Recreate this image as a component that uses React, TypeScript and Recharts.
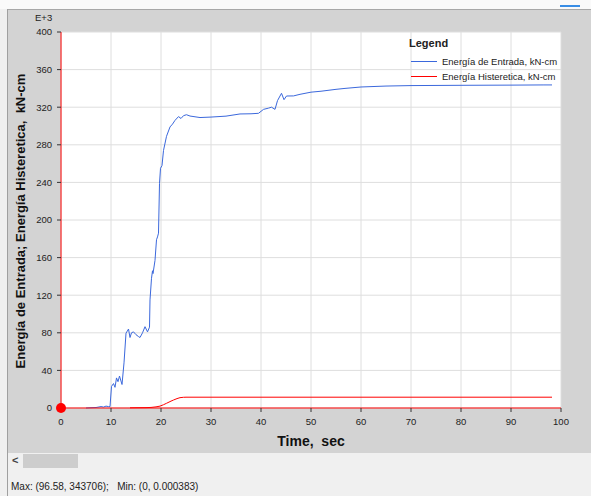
import React from "react";
import { LineChart, Line, XAxis, YAxis, CartesianGrid, ReferenceDot } from "recharts";

// Energía de Entrada (time in sec, value in kN-cm x 1000)
const entradaT = [5.0, 6, 7, 8, 8.5, 9, 9.5, 9.8, 10.1, 10.5, 10.8, 11.1, 11.4, 11.7, 12.2, 12.6, 13.0, 13.5, 13.8, 14.1, 14.5, 15.0, 15.5, 15.8, 16.3, 16.8, 17.3, 17.7, 17.8, 18.1, 18.3, 18.4, 18.8, 19.1, 19.3, 19.5, 19.7, 19.9, 20.2, 20.5, 21.1, 21.8, 22.3, 22.8, 23.5, 24.0, 24.5, 25.1, 25.8, 27.8, 30, 33, 35.8, 38, 39.5, 40.5, 41.5, 42.1, 42.8, 43.3, 44.1, 44.6, 45.1, 46.5, 47.8, 50, 52, 55, 56.8, 60, 65, 70, 80, 90, 96.58, 98.2];
const entradaV = [0, 0.3, 0.5, 1.5, 1, 2, 1.5, 1.4, 23, 26, 22, 32, 28, 34, 25, 48, 79.6, 84, 75, 80, 81, 78, 76, 75, 80, 86.5, 81, 86, 115, 138, 146, 143, 157, 179, 182, 186, 239, 255, 258, 274, 289, 299, 302, 306, 310, 308, 311, 312, 310.6, 309, 309.5, 310.5, 312.8, 313, 313.5, 317.7, 319, 320, 317.7, 327, 334.8, 328, 331.9, 332, 333.7, 336, 337, 339, 340, 341.5, 342.5, 343, 343.3, 343.5, 343.7, 343.7];

// Energía Histeretica
const histT = [13.8, 15, 17, 18, 19, 19.8, 20.5, 21.1, 22, 22.5, 23.2, 23.8, 24.5, 25, 30, 50, 98.2];
const histV = [0.2, 0.3, 0.4, 0.6, 1.2, 2, 3.5, 5, 7.3, 8.5, 10, 11, 11.4, 11.5, 11.5, 11.5, 11.5];

const xTicks = [0, 10, 20, 30, 40, 50, 60, 70, 80, 90, 100];
const yTicks = [0, 40, 80, 120, 160, 200, 240, 280, 320, 360, 400];

const seriesNames = ["Energía de Entrada, kN-cm", "Energía Histeretica, kN-cm"];
const seriesColors = ["#3b68dc", "#ff0000"];

const entradaData = entradaT.map((t, i) => ({ t, v: entradaV[i] }));
const histData = histT.map((t, i) => ({ t, v: histV[i] }));

const FONT = '"Liberation Sans", Arial, sans-serif';

export default function App() {
  return (
    <div style={{ position: "absolute", left: 0, top: 0, width: 591, height: 496, background: "#f0f0f0", overflow: "hidden", fontFamily: FONT }}>
      {/* top strip */}
      <div style={{ position: "absolute", left: 0, top: 0, width: 591, height: 9, background: "#fafafa" }} />
      <div style={{ position: "absolute", left: 560, top: 5, width: 20, height: 1.5, background: "#3a8ee6" }} />
      {/* gray panel */}
      <div style={{ position: "absolute", left: 8, top: 9, width: 583, height: 443, background: "#d3d3d3", borderTop: "1px solid #a8a8a8" }} />
      {/* left border */}
      <div style={{ position: "absolute", left: 7, top: 9, width: 1, height: 487, background: "#a0a0a0" }} />
      {/* scrollbar */}
      <div style={{ position: "absolute", left: 12, top: 454, fontSize: 11, color: "#444", fontWeight: "bold" }}>&lt;</div>
      <div style={{ position: "absolute", left: 23, top: 454, width: 55, height: 14, background: "#cdcdcd" }} />
      {/* status */}
      <div style={{ position: "absolute", left: 11, top: 481, fontSize: 10, color: "#222", whiteSpace: "pre" }}>
        {"Max: (96.58, 343706);   Min: (0, 0.000383)"}
      </div>

      <div style={{ position: "absolute", left: 0, top: 0 }}>
        <LineChart width={591} height={496} margin={{ top: 32, right: 30, left: 0, bottom: 48 }}>
          <CartesianGrid stroke="#dedede" fill="#ffffff" vertical horizontal />
          <XAxis
            type="number"
            dataKey="t"
            domain={[0, 100]}
            ticks={xTicks}
            allowDataOverflow
            height={40}
            axisLine={{ stroke: "#ff0000" }}
            tickLine={{ stroke: "#333" }}
            tickSize={4}
            tickMargin={6}
            tick={{ fill: "#222", fontSize: 9.5, fontFamily: FONT }}
          />
          <YAxis
            type="number"
            domain={[0, 400]}
            ticks={yTicks}
            width={61}
            axisLine={{ stroke: "#ff0000" }}
            tickLine={{ stroke: "#333" }}
            tickSize={4}
            tickMargin={5}
            tick={{ fill: "#222", fontSize: 9.5, fontFamily: FONT }}
          />
          <Line data={entradaData} dataKey="v" type="linear" stroke={seriesColors[0]} strokeWidth={1} dot={false} isAnimationActive={false} />
          <Line data={histData} dataKey="v" type="linear" stroke={seriesColors[1]} strokeWidth={1} dot={false} isAnimationActive={false} />
          <ReferenceDot x={0} y={0} r={5} fill="#ff0000" stroke="none" ifOverflow="visible" />
        </LineChart>
      </div>

      {/* E+3 */}
      <div style={{ position: "absolute", left: 35, top: 12, fontSize: 9.5, color: "#222" }}>E+3</div>
      {/* Y label */}
      <div
        style={{
          position: "absolute",
          left: 20,
          top: 221,
          transform: "translate(-50%, -50%) rotate(-90deg)",
          fontSize: 13,
          fontWeight: "bold",
          whiteSpace: "pre",
          lineHeight: "1",
          color: "#111",
        }}
      >
        {"Energía de Entrada; Energía Histeretica,  kN-cm"}
      </div>
      {/* X label */}
      <div
        style={{
          position: "absolute",
          left: 311,
          top: 434,
          transform: "translateX(-50%)",
          fontSize: 14,
          fontWeight: "bold",
          whiteSpace: "pre",
          lineHeight: "1",
          color: "#111",
        }}
      >
        {"Time,  sec"}
      </div>
      {/* Legend */}
      <div style={{ position: "absolute", left: 409, top: 37, fontSize: 11, fontWeight: "bold", color: "#222" }}>Legend</div>
      {seriesNames.map((name, i) => (
        <div key={name} style={{ position: "absolute", left: 411, top: 55 + i * 15, height: 12, display: "flex", alignItems: "center" }}>
          <div style={{ width: 26, height: 1, background: seriesColors[i] }} />
          <div style={{ marginLeft: 5, fontSize: 9.5, color: "#222", whiteSpace: "pre" }}>{name}</div>
        </div>
      ))}
    </div>
  );
}
